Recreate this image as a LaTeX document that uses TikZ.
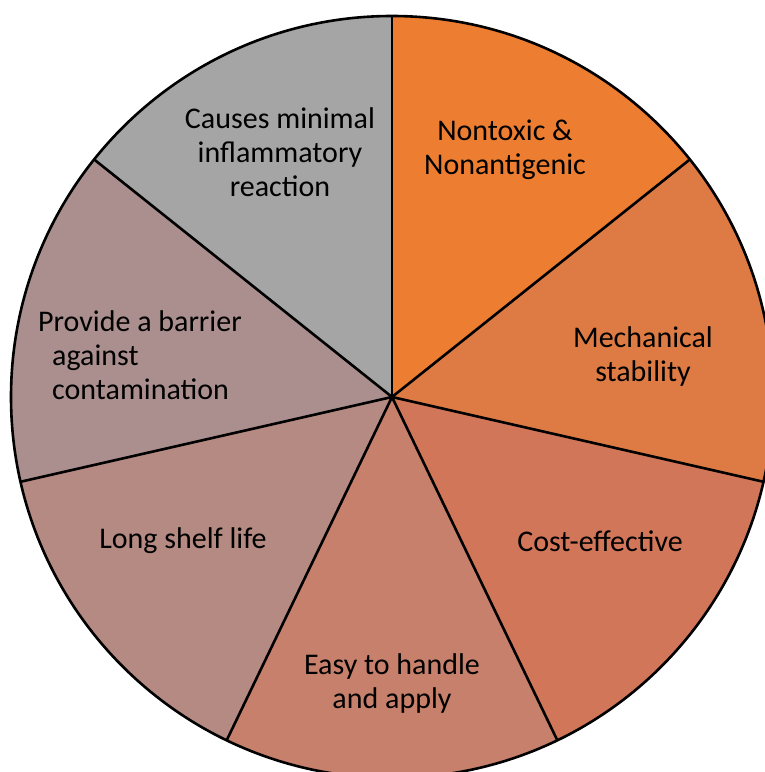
\documentclass[tikz,border=0pt]{standalone}
\usepackage{fontspec}
\setmainfont{Carlito}
\begin{document}
\begin{tikzpicture}[x=1pt,y=1pt,
  slice/.style={draw=black,line width=2.6pt,line join=round},
  lbl/.style={font=\fontsize{30}{34}\selectfont,align=center,inner sep=0pt,text=black}]
\useasboundingbox (0,0) rectangle (765,772);
\clip (0,0) rectangle (765,772);
\definecolor{cA}{HTML}{ED7D31}
\definecolor{cB}{HTML}{DE7B45}
\definecolor{cC}{HTML}{D2765A}
\definecolor{cD}{HTML}{C7806C}
\definecolor{cE}{HTML}{B58A82}
\definecolor{cF}{HTML}{AB8F8F}
\definecolor{cG}{HTML}{A5A5A5}
\coordinate (C) at (392,375);
\def\R{381}
% seven equal sectors, clockwise from the top
\foreach \a/\b/\c in {90/38.571/cA, 38.571/-12.857/cB, -12.857/-64.286/cC,
  -64.286/-115.714/cD, -115.714/-167.143/cE, -167.143/-218.571/cF, -218.571/-270/cG}{
  \fill[\c] (C) -- ++(\a:\R) arc[start angle=\a, end angle=\b, radius=\R] -- cycle;
}
\foreach \a in {90,38.571,-12.857,-64.286,-115.714,-167.143,-218.571}{
  \draw[slice] (C) -- ++(\a:\R);
}
\draw[slice] (C) circle[radius=\R];
% labels
\node[lbl] (nontoxic) at (505,622) {Nontoxic \&\\Nonantigenic};
\node[lbl] (mech) at (643,415) {Mechanical\\stability};
\node[lbl] (cost) at (600,231) {Cost-effective};
\node[lbl] (easy) at (392,88) {Easy to handle\\and apply};
\node[lbl] (shelf) at (183,231) {Long shelf life};
\node[lbl,align=left,anchor=west] (barrier) at (38,417) {Provide a barrier\\\hspace*{14pt}against\\\hspace*{14pt}contamination};
\node[lbl] (inflam) at (280,620) {Causes minimal\\inflammatory\\reaction};
\end{tikzpicture}
\end{document}
